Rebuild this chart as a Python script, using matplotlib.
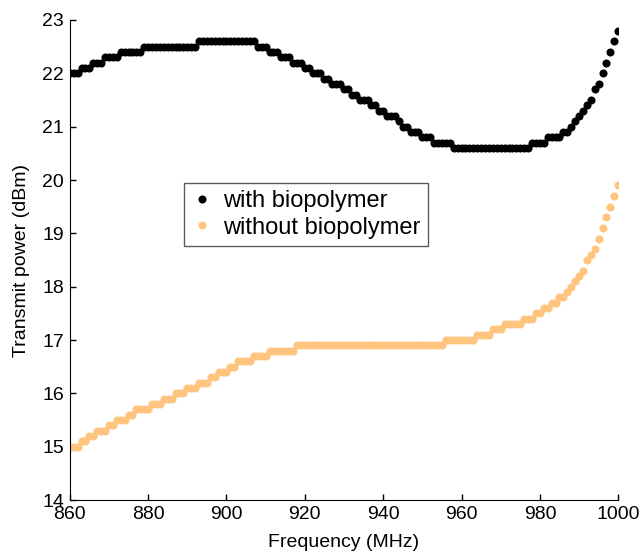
import numpy as np
import matplotlib
matplotlib.use("Agg")
import matplotlib.pyplot as plt

# frequency grid (MHz), one reading per MHz
freq = np.arange(860, 1001)

# transmit power (dBm)
with_bio = [
	22.0, 22.0, 22.0, 22.1, 22.1, 22.1, 22.2, 22.2, 22.2, 22.3,
	22.3, 22.3, 22.3, 22.4, 22.4, 22.4, 22.4, 22.4, 22.4, 22.5,
	22.5, 22.5, 22.5, 22.5, 22.5, 22.5, 22.5, 22.5, 22.5, 22.5,
	22.5, 22.5, 22.5, 22.6, 22.6, 22.6, 22.6, 22.6, 22.6, 22.6,
	22.6, 22.6, 22.6, 22.6, 22.6, 22.6, 22.6, 22.6, 22.5, 22.5,
	22.5, 22.4, 22.4, 22.4, 22.3, 22.3, 22.3, 22.2, 22.2, 22.2,
	22.1, 22.1, 22.0, 22.0, 22.0, 21.9, 21.9, 21.8, 21.8, 21.8,
	21.7, 21.7, 21.6, 21.6, 21.5, 21.5, 21.5, 21.4, 21.4, 21.3,
	21.3, 21.2, 21.2, 21.2, 21.1, 21.0, 21.0, 20.9, 20.9, 20.9,
	20.8, 20.8, 20.8, 20.7, 20.7, 20.7, 20.7, 20.7, 20.6, 20.6,
	20.6, 20.6, 20.6, 20.6, 20.6, 20.6, 20.6, 20.6, 20.6, 20.6,
	20.6, 20.6, 20.6, 20.6, 20.6, 20.6, 20.6, 20.6, 20.7, 20.7,
	20.7, 20.7, 20.8, 20.8, 20.8, 20.8, 20.9, 20.9, 21.0, 21.1,
	21.2, 21.3, 21.4, 21.5, 21.7, 21.8, 22.0, 22.2, 22.4, 22.6,
	22.8]

without_bio = [
	15.0, 15.0, 15.0, 15.1, 15.1, 15.2, 15.2, 15.3, 15.3, 15.3,
	15.4, 15.4, 15.5, 15.5, 15.5, 15.6, 15.6, 15.7, 15.7, 15.7,
	15.7, 15.8, 15.8, 15.8, 15.9, 15.9, 15.9, 16.0, 16.0, 16.0,
	16.1, 16.1, 16.1, 16.2, 16.2, 16.2, 16.3, 16.3, 16.4, 16.4,
	16.4, 16.5, 16.5, 16.6, 16.6, 16.6, 16.6, 16.7, 16.7, 16.7,
	16.7, 16.8, 16.8, 16.8, 16.8, 16.8, 16.8, 16.8, 16.9, 16.9,
	16.9, 16.9, 16.9, 16.9, 16.9, 16.9, 16.9, 16.9, 16.9, 16.9,
	16.9, 16.9, 16.9, 16.9, 16.9, 16.9, 16.9, 16.9, 16.9, 16.9,
	16.9, 16.9, 16.9, 16.9, 16.9, 16.9, 16.9, 16.9, 16.9, 16.9,
	16.9, 16.9, 16.9, 16.9, 16.9, 16.9, 17.0, 17.0, 17.0, 17.0,
	17.0, 17.0, 17.0, 17.0, 17.1, 17.1, 17.1, 17.1, 17.2, 17.2,
	17.2, 17.3, 17.3, 17.3, 17.3, 17.3, 17.4, 17.4, 17.4, 17.5,
	17.5, 17.6, 17.6, 17.7, 17.7, 17.8, 17.8, 17.9, 18.0, 18.1,
	18.2, 18.3, 18.5, 18.6, 18.7, 18.9, 19.1, 19.3, 19.5, 19.7,
	19.9]

labels = ["with biopolymer", "without biopolymer"]
colors = ["#000000", "#FFC47D"]

plt.rcParams["font.family"] = ["Liberation Sans", "DejaVu Sans"]

fig = plt.figure(figsize=(6.4, 5.55), dpi=100)
ax = fig.add_axes([0.109, 0.099, 0.857, 0.865])

ax.plot(freq, with_bio, "o", color=colors[0], markersize=5.8, markeredgewidth=0, label=labels[0])
ax.plot(freq, without_bio, "o", color=colors[1], markersize=5.8, markeredgewidth=0, label=labels[1])

ax.set_xlim(860, 1000)
ax.set_ylim(14, 23)
ax.set_xticks(np.arange(860, 1001, 20))
ax.set_yticks(np.arange(14, 24, 1))
ax.tick_params(direction="in", length=4, width=1, labelsize=14, pad=4)
ax.spines["top"].set_visible(False)
ax.spines["right"].set_visible(False)
ax.set_xlabel("Frequency (MHz)", fontsize=14, labelpad=8)
ax.set_ylabel("Transmit power (dBm)", fontsize=14, labelpad=9)

leg = ax.legend(loc="upper left", bbox_to_anchor=(0.209, 0.660), borderaxespad=0,
	fontsize=17, fancybox=False, markerscale=1.0, handlelength=0.9,
	handletextpad=0.45, borderpad=0.3, labelspacing=0.18)
leg.get_frame().set_edgecolor("#333333")
leg.get_frame().set_linewidth(1.0)

fig.savefig("out.png", dpi=100)
